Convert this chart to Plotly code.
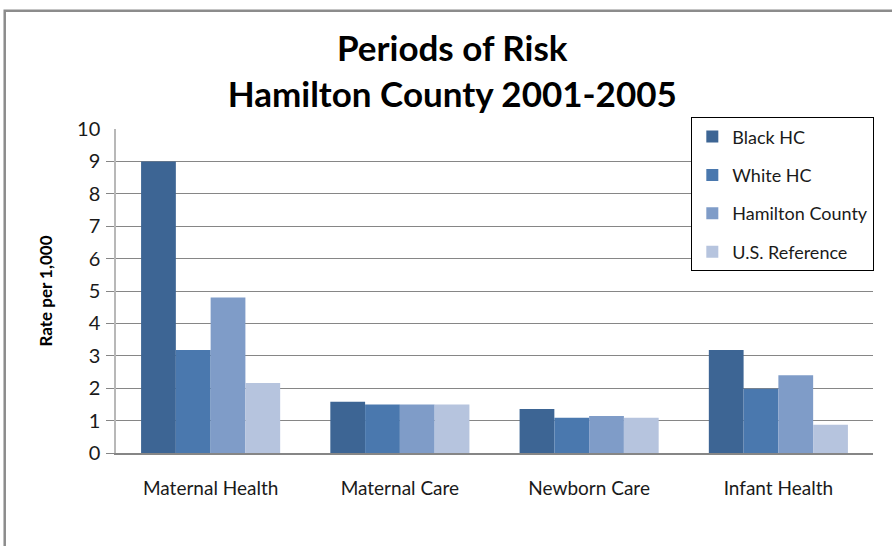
import plotly.graph_objects as go

# Periods of Risk, Hamilton County 2001-2005 (rate per 1,000)
categories = ["Maternal Health", "Maternal Care", "Newborn Care", "Infant Health"]
black_hc = [9.0, 1.58, 1.36, 3.18]
white_hc = [3.18, 1.5, 1.09, 1.98]
hamilton = [4.8, 1.5, 1.14, 2.4]
us_ref = [2.16, 1.5, 1.09, 0.87]

series = [
    ("Black HC", black_hc, "#3d6594"),
    ("White HC", white_hc, "#4a78ae"),
    ("Hamilton County", hamilton, "#7f9cc8"),
    ("U.S. Reference", us_ref, "#b6c4de"),
]

font_main = "Lato, sans-serif"

fig = go.Figure()
for name, vals, color in series:
    fig.add_trace(go.Bar(
        x=categories, y=vals, name=name, legendgroup=name,
        marker=dict(color=color, line=dict(width=0)),
    ))

fig.update_layout(
    width=892, height=546,
    margin=dict(l=116, r=19, t=129, b=93),
    paper_bgcolor="white", plot_bgcolor="white",
    barmode="group", bargap=0.265, bargroupgap=0,
    title=dict(
        text="<b>Periods of Risk<br>Hamilton County 2001-2005</b>",
        x=0.507, xanchor="center", y=0.888, yanchor="middle",
        font=dict(family=font_main, size=35, color="black"),
    ),
    legend=dict(
        x=0.76, y=1.036, xanchor="left", yanchor="top",
        bgcolor="white", bordercolor="black", borderwidth=1,
        font=dict(family=font_main, size=18, color="#1a1a1a"),
        traceorder="grouped", tracegroupgap=12,
    ),
    showlegend=True,
)

fig.update_xaxes(
    showline=True, linecolor="#868686", linewidth=2,
    ticks="", showgrid=False,
    tickfont=dict(family=font_main, size=19, color="#1a1a1a"),
    ticklabelstandoff=17,
)

fig.update_yaxes(
    range=[0, 10], tickvals=list(range(0, 11)),
    showgrid=False, ticks="",
    showline=True, linecolor="#b8b8b8", linewidth=1.5,
    minor=dict(tickvals=list(range(0, 10)), ticks="outside", ticklen=8,
               tickcolor="#868686", showgrid=True, gridcolor="#868686", gridwidth=1),
    tickfont=dict(family=font_main, size=20, color="#1a1a1a"),
    ticklabelstandoff=10,
    title=dict(text="<b>Rate per 1,000</b>", standoff=20,
               font=dict(family=font_main, size=17, color="black")),
)

# outer chart border (top and left visible)
fig.add_shape(type="rect", xref="paper", yref="paper",
              x0=-0.147, x1=1.1, y0=-0.4, y1=1.365,
              line=dict(color="#8c8c8c", width=2.5), fillcolor="rgba(0,0,0,0)",
              layer="below")

fig.write_html("out.html", config={"displayModeBar": False},
               post_script="document.body.style.margin='0';")
